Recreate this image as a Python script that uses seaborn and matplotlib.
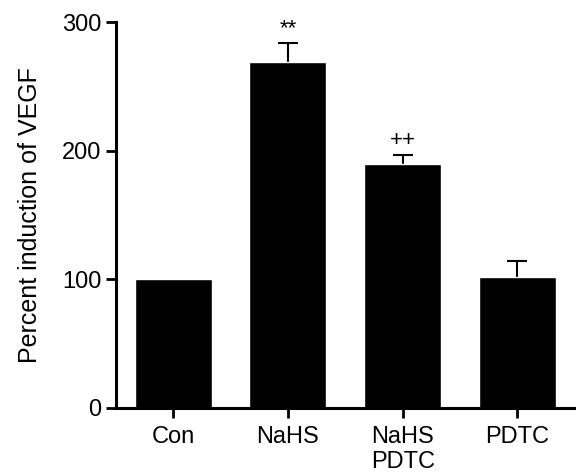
import matplotlib
matplotlib.use("Agg")
import matplotlib.pyplot as plt
import numpy as np
import pandas as pd
import seaborn as sns

groups = ["Con", "NaHS", "NaHS\nPDTC", "PDTC"]
vegf = [100, 269, 190, 101.5]
sem = [0, 15, 7, 13]
marks = ["", "**", "++", ""]

df = pd.DataFrame({"group": groups, "vegf": vegf, "sem": sem})

sns.set_style("ticks")
plt.rcParams["font.family"] = ["Liberation Sans", "DejaVu Sans"]
plt.rcParams["text.color"] = "black"
plt.rcParams["axes.labelcolor"] = "black"
plt.rcParams["xtick.color"] = "black"
plt.rcParams["ytick.color"] = "black"
plt.rcParams["axes.edgecolor"] = "black"

fig = plt.figure(figsize=(5.76, 4.72), dpi=100)
ax = fig.add_axes([0.201, 0.1356, 0.797, 0.8174])

sns.barplot(data=df, x="group", y="vegf", color="black", width=0.67,
            saturation=1, errorbar=None, ax=ax, zorder=2)

# only the upper half shows, the lower half sits behind the bar
xs = np.arange(len(groups))
has_err = df["sem"] > 0
ax.errorbar(xs[has_err], df["vegf"][has_err], yerr=df["sem"][has_err],
            fmt="none", ecolor="black", elinewidth=1.5, capsize=7,
            capthick=1.5, zorder=1)

for x, v, e, m in zip(xs, vegf, sem, marks):
    if m:
        ax.text(x, v + e + 3, m, ha="center", va="bottom", fontsize=16)

ax.set_xlim(-0.5, 3.5)
ax.set_ylim(0, 300)
ax.set_yticks([0, 100, 200, 300])
ax.set_xlabel("")
ax.set_ylabel("Percent induction of VEGF", fontsize=18, labelpad=14)
ax.tick_params(axis="both", labelsize=17, width=2, length=7, direction="out")
ax.tick_params(axis="x", pad=6)
for s in ["left", "bottom"]:
    ax.spines[s].set_linewidth(2.2)
sns.despine(ax=ax)

fig.savefig("out.png", dpi=100)
